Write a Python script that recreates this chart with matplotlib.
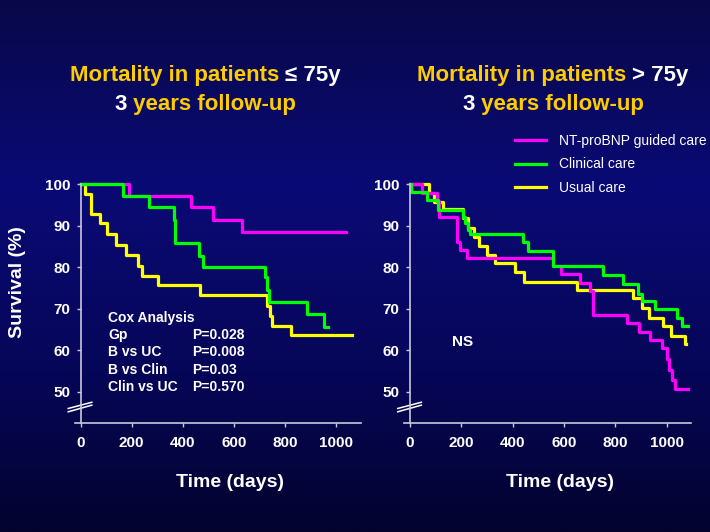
import numpy as np
import matplotlib
matplotlib.use("Agg")
import matplotlib.pyplot as plt

plt.rcParams['font.family'] = ['Liberation Sans', 'DejaVu Sans']

# --- datos ---
# <= 75 anos
le_nt_t = [0, 191, 432, 519, 632, 1036]
le_nt_s = [100, 97.1, 94.5, 91.5, 88.6, 88.6]
le_cl_t = [0, 167, 268, 366, 370, 463, 480, 721, 730, 736, 886, 951, 968]
le_cl_s = [100, 97.1, 94.5, 91.4, 85.8, 82.8, 80.2, 77.6, 74.5, 71.6, 68.7, 65.7, 65.7]
le_uc_t = [0, 18, 41, 76, 102, 137, 176, 226, 239, 304, 467, 728, 742, 750, 823, 1059]
le_uc_s = [100, 97.7, 92.8, 90.6, 88.0, 85.5, 83.0, 80.3, 78.0, 75.7, 73.3, 70.7, 68.3, 65.9, 63.6, 63.6]

# > 75 anos
gt_nt_t = [0, 45, 105, 112, 182, 195, 221, 555, 588, 660, 700, 714, 844, 893, 935, 980,
           1000, 1008, 1020, 1033, 1084]
gt_nt_s = [100, 98.0, 96.0, 92.1, 86.2, 84.2, 82.2, 80.4, 78.5, 76.3, 74.4, 68.5, 66.5, 64.5,
           62.5, 60.5, 58.0, 55.3, 52.8, 50.7, 50.7]
gt_cl_t = [0, 3, 65, 110, 208, 215, 225, 232, 441, 461, 558, 753, 831, 889, 902, 954, 1039, 1058, 1084]
gt_cl_s = [100, 98.2, 96.2, 93.8, 92.2, 90.6, 89.0, 88.0, 86.2, 84.0, 80.3, 78.1, 76.0, 73.7,
           72.0, 70.0, 67.7, 65.9, 65.9]
gt_uc_t = [0, 74, 95, 130, 208, 225, 250, 270, 300, 331, 409, 442, 652, 869, 902, 930, 985,
           1015, 1072, 1076]
gt_uc_s = [100, 97.8, 95.8, 94.0, 91.8, 89.6, 87.3, 85.2, 83.0, 81.0, 78.9, 76.5, 74.5, 72.5,
           70.1, 67.8, 65.9, 63.5, 61.5, 61.5]

x_ticks = [0, 200, 400, 600, 800, 1000]
y_ticks = [50, 60, 70, 80, 90, 100]
leyenda = ['NT-proBNP guided care', 'Clinical care', 'Usual care']
cox_lbl = ['Gp', 'B vs UC', 'B vs Clin', 'Clin vs UC']
cox_p = ['P=0.028', 'P=0.008', 'P=0.03', 'P=0.570']

MAG, VER, AMA = '#ff00ff', '#00ff00', '#ffff00'
ORO = '#ffcc00'
EJE = '#c8c8dc'
W, H = 710, 532

fig = plt.figure(figsize=(7.1, 5.32), dpi=100)

# fondo degradado azul
bg = fig.add_axes([0, 0, 1, 1], zorder=-10)
pos = np.linspace(0, 1, 256)
r = np.interp(pos, [0, 0.35, 0.7, 1], [8, 10, 6, 3])
g = np.interp(pos, [0, 0.35, 0.7, 1], [8, 10, 6, 3])
b = np.interp(pos, [0, 0.35, 0.7, 1], [72, 118, 88, 45])
img = np.stack([r, g, b], axis=1)[:, None, :] / 255.0
bg.imshow(img, aspect='auto', extent=[0, 1, 0, 1])
bg.axis('off')


def armar_panel(ax):
    ax.set_facecolor('none')
    ax.set_xlim(-22, 1095)
    ax.set_ylim(42.5, 101)
    for s in ['top', 'right']:
        ax.spines[s].set_visible(False)
    ax.spines['left'].set_position(('data', 0))
    ax.spines['left'].set_bounds(42.5, 100)
    for s in ['left', 'bottom']:
        ax.spines[s].set_color(EJE)
        ax.spines[s].set_linewidth(1.2)
    ax.set_xticks(x_ticks)
    ax.set_yticks(y_ticks)
    ax.tick_params(axis='both', direction='out', length=3, width=1, color=EJE,
                   labelcolor='white', labelsize=11)
    ax.tick_params(axis='y', pad=4.5)
    ax.tick_params(axis='x', pad=6.5)
    for lb in ax.get_xticklabels() + ax.get_yticklabels():
        lb.set_fontweight('bold')
    # marca de corte del eje
    ax.plot([-48, 44], [45.2, 46.8], color='white', lw=1.1, clip_on=False)
    ax.plot([-48, 44], [46.0, 47.5], color='white', lw=1.1, clip_on=False)


ax1 = fig.add_axes([74.9 / W, 1 - 423 / H, 285.9 / W, 242.8 / H])
ax2 = fig.add_axes([404.4 / W, 1 - 423 / H, 286.8 / W, 242.8 / H])
armar_panel(ax1)
armar_panel(ax2)

lw = 2.3
ax1.step(le_uc_t, le_uc_s, where='post', color=AMA, lw=lw)
ax1.step(le_nt_t, le_nt_s, where='post', color=MAG, lw=lw)
ax1.step(le_cl_t, le_cl_s, where='post', color=VER, lw=lw)

l3, = ax2.step(gt_uc_t, gt_uc_s, where='post', color=AMA, lw=lw)
l1, = ax2.step(gt_nt_t, gt_nt_s, where='post', color=MAG, lw=lw)
l2, = ax2.step(gt_cl_t, gt_cl_s, where='post', color=VER, lw=lw)

fig.legend([l1, l2, l3], leyenda, loc='upper left',
           bbox_to_anchor=(515 / W, 1 - 134 / H), bbox_transform=fig.transFigure,
           frameon=False, borderpad=0, borderaxespad=0, handlelength=2.2,
           handletextpad=0.95, labelspacing=0.68, labelcolor='white',
           prop={'size': 10})

# texto Cox
ys = [318, 335, 352, 370, 387]
fig.text(108 / W, 1 - ys[0] / H, 'Cox Analysis', color='white', fontsize=10,
         fontweight='bold', va='center')
for i in range(4):
    fig.text(108 / W, 1 - ys[i + 1] / H, cox_lbl[i], color='white', fontsize=10,
             fontweight='bold', va='center')
    fig.text(192 / W, 1 - ys[i + 1] / H, cox_p[i], color='white', fontsize=10,
             fontweight='bold', va='center')

fig.text(463 / W, 1 - 342 / H, 'NS', color='white', fontsize=11,
         fontweight='bold', ha='center', va='center')


# titulos con dos colores
def texto_partes(xc, yb, partes, size=16):
    rend = fig.canvas.get_renderer()
    objs = []
    anchos = []
    for s, c in partes:
        t = fig.text(0, 1 - yb / H, s, color=c, fontsize=size, fontweight='bold',
                     va='baseline', ha='left')
        objs.append(t)
        anchos.append(t.get_window_extent(rend).width)
    x = xc - sum(anchos) / 2
    for t, a in zip(objs, anchos):
        t.set_x(x / W)
        x += a


texto_partes(205, 80.7, [('Mortality in patients ', ORO), ('\u2264 75y', 'white')])
texto_partes(205, 110, [('3', 'white'), (' years follow-up', ORO)])
texto_partes(553, 80.7, [('Mortality in patients ', ORO), ('> 75y', 'white')])
texto_partes(553, 110, [('3', 'white'), (' years follow-up', ORO)])

fig.text(18 / W, 1 - 282 / H, 'Survival (%)', color='white', fontsize=14,
         fontweight='bold', rotation=90, ha='center', va='center')
fig.text(230 / W, 1 - 486.7 / H, 'Time (days)', color='white', fontsize=14,
         fontweight='bold', ha='center', va='baseline')
fig.text(560 / W, 1 - 486.7 / H, 'Time (days)', color='white', fontsize=14,
         fontweight='bold', ha='center', va='baseline')

fig.savefig('out.png', dpi=100)
